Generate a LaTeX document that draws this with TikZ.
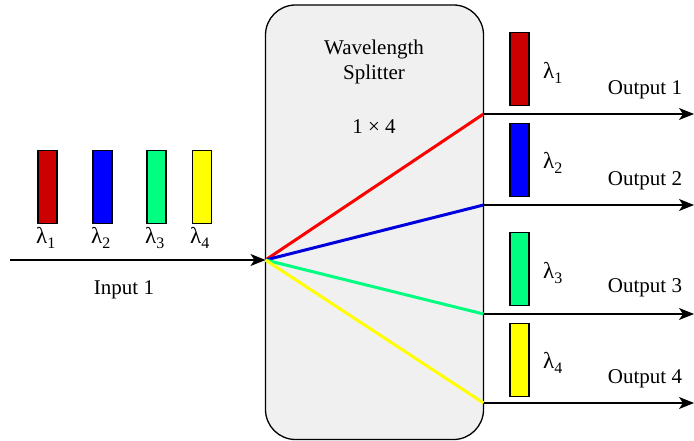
\documentclass[tikz,border=0pt]{standalone}
\usepackage{fontspec}
\setmainfont{Liberation Serif}
\usetikzlibrary{arrows.meta}
\tikzset{
  lbl/.style={font=\fontsize{21}{23}\selectfont, inner sep=0pt},
  lam/.style={font=\fontsize{23}{25}\selectfont, inner sep=0pt, anchor=west},
  bar/.style={draw=black, line width=1.2pt, minimum width=19pt, minimum height=73pt, inner sep=0pt},
  arr/.style={line width=1.3pt, -{Stealth[length=15pt,width=12pt,inset=4pt]}},
  ray/.style={line width=3pt},
}
\newcommand{\lamsub}[1]{λ\raisebox{-0.45ex}{\fontsize{16}{16}\selectfont #1}}
\begin{document}
\begin{tikzpicture}[x=1pt,y=-1pt]
\useasboundingbox (0,0) rectangle (694,441);
% splitter
\draw[line width=1.3pt, fill={rgb,255:red,240;green,240;blue,240}, rounded corners=30pt] (265.5,5) rectangle (483.5,439.5);
\node[lbl, align=center] (title) at (374,62) {Wavelength\\[2pt]Splitter};
\node[lbl] (size) at (374,127) {1 × 4};
% input
\coordinate (in0) at (10,260);
\coordinate (src) at (265.5,260);
\draw[arr] (in0) -- (src);
\node[lbl] (inlbl) at (124,290) {Input 1};
% input bars
\node[bar, fill={rgb,255:red,204;green,0;blue,0}] (b1) at (47.5,187) {};
\node[bar, fill={rgb,255:red,0;green,0;blue,255}] (b2) at (102.5,187) {};
\node[bar, fill={rgb,255:red,0;green,255;blue,128}] (b3) at (156.5,187) {};
\node[bar, fill={rgb,255:red,255;green,255;blue,0}] (b4) at (202,187) {};
\node[lam] (l1) at (36,238) {\lamsub{1}};
\node[lam] (l2) at (91,238) {\lamsub{2}};
\node[lam] (l3) at (145,238) {\lamsub{3}};
\node[lam] (l4) at (190,238) {\lamsub{4}};
% output points
\coordinate (o1) at (483.5,114);
\coordinate (o2) at (483.5,205);
\coordinate (o3) at (483.5,314);
\coordinate (o4) at (483.5,403);
\coordinate (e1) at (694,114);
\coordinate (e2) at (694,205);
\coordinate (e3) at (694,314);
\coordinate (e4) at (694,403);
% rays
\draw[ray, color={rgb,255:red,255;green,0;blue,0}] (src) -- (o1);
\draw[ray, color={rgb,255:red,0;green,0;blue,220}] (src) -- (o2);
\draw[ray, color={rgb,255:red,0;green,255;blue,128}] (src) -- (o3);
\draw[ray, color={rgb,255:red,255;green,255;blue,0}] (src) -- (o4);
% output arrows
\draw[arr] (o1) -- (e1);
\draw[arr] (o2) -- (e2);
\draw[arr] (o3) -- (e3);
\draw[arr] (o4) -- (e4);
\node[lbl] (ol1) at (645,90) {Output 1};
\node[lbl] (ol2) at (645,181) {Output 2};
\node[lbl] (ol3) at (645,288) {Output 3};
\node[lbl] (ol4) at (645,379) {Output 4};
% output bars
\node[bar, fill={rgb,255:red,204;green,0;blue,0}] (c1) at (519.5,69) {};
\node[bar, fill={rgb,255:red,0;green,0;blue,255}] (c2) at (519.5,160) {};
\node[bar, fill={rgb,255:red,0;green,255;blue,128}] (c3) at (519.5,269) {};
\node[bar, fill={rgb,255:red,255;green,255;blue,0}] (c4) at (519.5,360) {};
\node[lam] (r1) at (543,73) {\lamsub{1}};
\node[lam] (r2) at (543,163) {\lamsub{2}};
\node[lam] (r3) at (543,273) {\lamsub{3}};
\node[lam] (r4) at (543,363) {\lamsub{4}};
\end{tikzpicture}
\end{document}
